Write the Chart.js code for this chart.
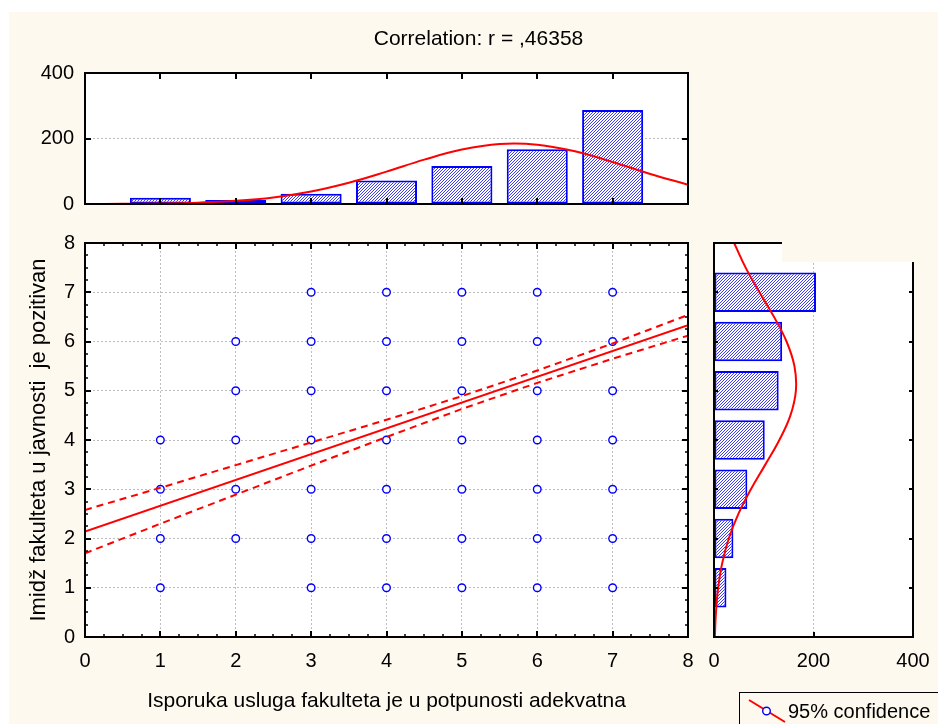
<!DOCTYPE html>
<html><head><meta charset="utf-8">
<script src="https://cdn.jsdelivr.net/npm/chart.js@4.4.0/dist/chart.umd.min.js"></script>
<style>
html,body{margin:0;padding:0;background:#fff;width:938px;height:724px;overflow:hidden}
#bg{position:absolute;left:9px;top:12px;width:929px;height:712px;background:#fdf9ef}
canvas{position:absolute;left:0;top:0}
</style></head><body>
<div id="bg"></div>
<canvas id="topHist" width="938" height="724"></canvas>
<canvas id="rightHist" width="938" height="724"></canvas>
<canvas id="main" width="938" height="724"></canvas>
<script>
// ---------- texts ----------
const titleText = 'Correlation: r = ,46358';
const xAxisTitle = 'Isporuka usluga fakulteta je u potpunosti adekvatna';
const yAxisTitle = 'Imidž fakulteta u javnosti  je pozitivan';
const legendLabel = '95% confidence';

// ---------- data ----------
const scoreValues = [1, 2, 3, 4, 5, 6, 7];
const xFrequencies = [19, 12, 31, 72, 116, 167, 287];
const yFrequencies = [25, 39, 67, 102, 130, 137, 205];

const curveGrid = [0, 0.5, 1, 1.5, 2, 2.5, 3, 3.5, 4, 4.5, 5, 5.5, 6, 6.5, 7, 7.5, 8];
const xNormalCurve = [0.2, 0.5, 1.6, 4.1, 9.6, 20.1, 38.2, 64.9, 98.9, 135.4, 166.1, 183.2, 181.2, 160.9, 128.2, 91.7, 58.8];
const yNormalCurve = [1.7, 3.9, 8.4, 16.5, 29.7, 49.0, 74.2, 103.1, 131.4, 153.6, 164.6, 161.7, 145.8, 120.6, 91.4, 63.6, 40.5];

const pointX = [3, 4, 5, 6, 7,
                2, 3, 4, 5, 6, 7,
                2, 3, 4, 5, 6, 7,
                1, 2, 3, 4, 5, 6, 7,
                1, 2, 3, 4, 5, 6, 7,
                1, 2, 3, 4, 5, 6, 7,
                1, 3, 4, 5, 6, 7];
const pointY = [7, 7, 7, 7, 7,
                6, 6, 6, 6, 6, 6,
                5, 5, 5, 5, 5, 5,
                4, 4, 4, 4, 4, 4, 4,
                3, 3, 3, 3, 3, 3, 3,
                2, 2, 2, 2, 2, 2, 2,
                1, 1, 1, 1, 1, 1];

const fitX = [0, 8];
const fitY = [2.14, 6.33];
const bandX = [0, 1, 2, 3, 4, 5, 6, 7, 8];
const bandUpper = [2.58, 3.03, 3.49, 3.95, 4.41, 4.89, 5.41, 5.96, 6.54];
const bandLower = [1.70, 2.30, 2.89, 3.48, 4.06, 4.63, 5.16, 5.65, 6.12];

// ---------- styles ----------
const CREAM = '#fdf9ef';
const FONT = "'Liberation Sans', Arial, Helvetica, sans-serif";
const GRID = '#bdbdbd';
Chart.defaults.font.family = FONT;
Chart.defaults.color = '#000';
Chart.defaults.animation = false;

function hatchPattern(ctx) {
  const c = document.createElement('canvas'); c.width = 3; c.height = 3;
  const g = c.getContext('2d');
  g.fillStyle = '#ffffff'; g.fillRect(0, 0, 3, 3);
  g.fillStyle = '#3a3aff';
  g.fillRect(2, 0, 1, 1); g.fillRect(1, 1, 1, 1); g.fillRect(0, 2, 1, 1);
  return ctx.createPattern(c, 'repeat');
}

function range(a, b, s) { const r = []; for (let v = a; v <= b + 1e-9; v += s) r.push(Math.round(v * 1000) / 1000); return r; }

function framePlugin(spec) {
  return {
    id: 'frame',
    beforeDraw(chart) {
      const {ctx, chartArea: a} = chart;
      ctx.save(); ctx.fillStyle = '#fff';
      ctx.fillRect(a.left, a.top, a.right - a.left, a.bottom - a.top);
      ctx.restore();
    },
    afterDraw(chart) {
      const {ctx, chartArea: a} = chart;
      const xs = chart.scales.x, ys = chart.scales.y;
      ctx.save(); ctx.strokeStyle = '#000'; ctx.lineCap = 'butt';
      const seg = (x1, y1, x2, y2, w) => { ctx.lineWidth = w; ctx.beginPath(); ctx.moveTo(x1, y1); ctx.lineTo(x2, y2); ctx.stroke(); };
      (spec.xTicks || []).forEach(t => {
        const px = Math.round(xs.getPixelForValue(t.v));
        seg(px, a.top, px, a.top + t.len, t.w);
        seg(px, a.bottom, px, a.bottom - t.len, t.w);
      });
      (spec.yTicks || []).forEach(t => {
        const py = Math.round(ys.getPixelForValue(t.v));
        seg(a.left, py, a.left + t.len, py, t.w);
        seg(a.right, py, a.right - t.len, py, t.w);
      });
      ctx.lineWidth = 2;
      ctx.strokeRect(a.left, a.top, a.right - a.left, a.bottom - a.top);
      ctx.restore();
      if (spec.extra) spec.extra(chart);
    }
  };
}

// ---------- top histogram ----------
const topCanvas = document.getElementById('topHist');
const topCtx = topCanvas.getContext('2d');
new Chart(topCanvas, {
  type: 'bar',
  data: {
    datasets: [
      { type: 'line', data: curveGrid.map((x, i) => ({x, y: xNormalCurve[i]})),
        borderColor: '#ff0000', borderWidth: 2, pointRadius: 0, tension: 0.4, fill: false },
      { type: 'bar', data: scoreValues.map((x, i) => ({x, y: xFrequencies[i]})),
        backgroundColor: hatchPattern(topCtx), borderColor: '#0000ff', borderWidth: 2,
        borderSkipped: false, barPercentage: 1, categoryPercentage: 0.81 }
    ]
  },
  options: {
    responsive: false, animation: false,
    layout: { padding: { left: 0, top: 73, right: 250, bottom: 520 } },
    plugins: { legend: { display: false }, tooltip: { enabled: false } },
    scales: {
      x: { type: 'linear', min: 0, max: 8, display: false, offset: false },
      y: { min: 0, max: 400,
           ticks: { stepSize: 200, padding: 11, font: { size: 20 } },
           grid: { color: GRID, lineWidth: 1, drawTicks: false },
           border: { display: false, dash: [2, 2] },
           afterFit(s) { s.width = 85; } }
    }
  },
  plugins: [framePlugin({
    xTicks: range(0, 8, 1).map(v => ({v, len: 6, w: 2})),
    yTicks: [0, 200, 400].map(v => ({v, len: 6, w: 2})),
    extra(chart) {
      const ctx = chart.ctx;
      ctx.save();
      ctx.font = '21px ' + FONT; ctx.fillStyle = '#000';
      ctx.textAlign = 'center'; ctx.textBaseline = 'middle';
      ctx.fillText(titleText, 478.5, 39.5);
      ctx.restore();
    }
  })]
});

// ---------- right histogram ----------
const rightCanvas = document.getElementById('rightHist');
const rightCtx = rightCanvas.getContext('2d');
new Chart(rightCanvas, {
  type: 'bar',
  data: {
    datasets: [
      { type: 'line', indexAxis: 'y', data: curveGrid.map((y, i) => ({x: yNormalCurve[i], y})),
        borderColor: '#ff0000', borderWidth: 2, pointRadius: 0, tension: 0.4, fill: false },
      { type: 'bar', data: scoreValues.map((y, i) => ({x: yFrequencies[i], y})),
        backgroundColor: hatchPattern(rightCtx), borderColor: '#0000ff', borderWidth: 2,
        borderSkipped: false, barPercentage: 1, categoryPercentage: 0.8 }
    ]
  },
  options: {
    indexAxis: 'y',
    responsive: false, animation: false,
    layout: { padding: { left: 714, top: 243, right: 25, bottom: 0 } },
    plugins: { legend: { display: false }, tooltip: { enabled: false } },
    scales: {
      x: { type: 'linear', min: 0, max: 400, position: 'bottom',
           ticks: { stepSize: 200, padding: 12, font: { size: 20 } },
           grid: { color: GRID, lineWidth: 1, drawTicks: false },
           border: { display: false, dash: [2, 2] },
           afterFit(s) { s.height = 87; s.paddingRight = 0; s.paddingLeft = 0; } },
      y: { type: 'linear', min: 0, max: 8, display: false, offset: false }
    }
  },
  plugins: [framePlugin({
    xTicks: [0, 200, 400].map(v => ({v, len: 5, w: 2})),
    yTicks: range(0, 8, 1).map(v => ({v, len: 4, w: 2})),
    extra(chart) {
      const ctx = chart.ctx;
      ctx.save(); ctx.fillStyle = CREAM;
      ctx.fillRect(782, 225, 200, 37);
      ctx.restore();
    }
  })]
});

// ---------- main scatter ----------
new Chart(document.getElementById('main'), {
  type: 'scatter',
  data: {
    datasets: [
      { label: 'fit', data: fitX.map((x, i) => ({x, y: fitY[i]})), showLine: true,
        borderColor: '#ff0000', borderWidth: 2, pointRadius: 0 },
      { label: 'upper', data: bandX.map((x, i) => ({x, y: bandUpper[i]})), showLine: true,
        borderColor: '#ff0000', borderWidth: 2, borderDash: [7, 5], pointRadius: 0 },
      { label: 'lower', data: bandX.map((x, i) => ({x, y: bandLower[i]})), showLine: true,
        borderColor: '#ff0000', borderWidth: 2, borderDash: [7, 5], pointRadius: 0 },
      { label: 'points', data: pointX.map((x, i) => ({x, y: pointY[i]})), showLine: false,
        pointRadius: 3.8, pointBorderWidth: 1.4, pointBorderColor: '#0000ff', pointBackgroundColor: '#ffffff' }
    ]
  },
  options: {
    responsive: false, animation: false,
    layout: { padding: { left: 0, top: 243, right: 250, bottom: 0 } },
    plugins: { legend: { display: false }, tooltip: { enabled: false } },
    scales: {
      x: { type: 'linear', min: 0, max: 8, position: 'bottom',
           ticks: { stepSize: 1, padding: 12, font: { size: 20 }, maxRotation: 0 },
           grid: { color: GRID, lineWidth: 1, drawTicks: false },
           border: { display: false, dash: [2, 2] },
           title: { display: true, text: xAxisTitle, font: { size: 21 }, padding: { top: 0, bottom: 10 } },
           afterFit(s) { s.height = 87; } },
      y: { type: 'linear', min: 0, max: 8, position: 'left',
           ticks: { stepSize: 1, padding: 10, font: { size: 20 } },
           grid: { color: GRID, lineWidth: 1, drawTicks: false },
           border: { display: false, dash: [2, 2] },
           title: { display: true, text: yAxisTitle, font: { size: 22 }, padding: { top: 26, bottom: 0 } },
           afterFit(s) { s.width = 85; } }
    }
  },
  plugins: [framePlugin({
    xTicks: range(0, 8, 0.25).map(v => Number.isInteger(v) ? {v, len: 6, w: 2} : {v, len: 3, w: 1.5}),
    yTicks: range(0, 8, 0.25).map(v => Number.isInteger(v) ? {v, len: 6, w: 2} : {v, len: 3, w: 1.5}),
    extra(chart) {
      const ctx = chart.ctx;
      ctx.save();
      ctx.strokeStyle = '#000'; ctx.lineWidth = 1;
      ctx.strokeRect(739.5, 692.5, 400, 100);
      ctx.strokeStyle = '#ff0000'; ctx.lineWidth = 2;
      ctx.beginPath(); ctx.moveTo(749, 700); ctx.lineTo(785, 722); ctx.stroke();
      ctx.beginPath(); ctx.arc(766.5, 711, 3.8, 0, Math.PI * 2);
      ctx.fillStyle = '#fff'; ctx.fill();
      ctx.strokeStyle = '#0000ff'; ctx.lineWidth = 1.4; ctx.stroke();
      ctx.font = '20px ' + FONT; ctx.fillStyle = '#000';
      ctx.textAlign = 'left'; ctx.textBaseline = 'alphabetic';
      ctx.fillText(legendLabel, 788, 718);
      ctx.restore();
    }
  })]
});
</script>
</body></html>
